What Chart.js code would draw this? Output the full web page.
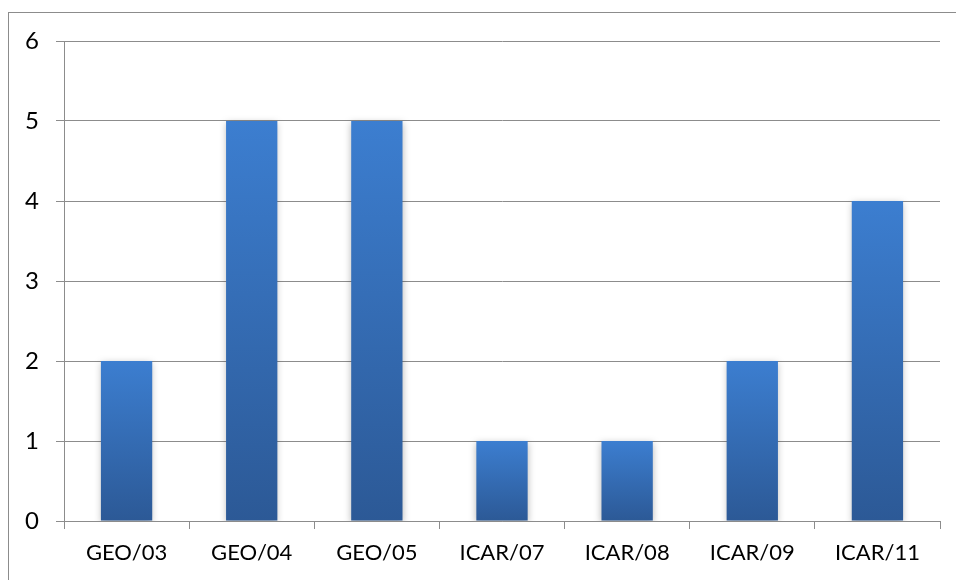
<!DOCTYPE html>
<html>
<head>
<meta charset="utf-8">
<script src="https://cdn.jsdelivr.net/npm/chart.js@4/dist/chart.umd.min.js"></script>
<style>
  html,body{margin:0;padding:0;background:#fff;}
  #wrap{position:relative;width:956px;height:580px;overflow:hidden;}
  #frame{position:absolute;left:8px;top:12px;width:1000px;height:700px;border:1px solid #8c8c8c;box-sizing:border-box;}
  canvas{position:absolute;left:0;top:0;}
</style>
</head>
<body>
<div id="wrap">
  <div id="frame"></div>
  <canvas id="c" width="956" height="580"></canvas>
</div>
<script>
const categories = ["GEO/03","GEO/04","GEO/05","ICAR/07","ICAR/08","ICAR/09","ICAR/11"];
const values = [2,5,5,1,1,2,4];
const yTicks = [0,1,2,3,4,5,6];

const topColor = "rgb(60,126,208)";
const botColor = "rgb(44,89,150)";

const shadowPlugin = {
  id: "barShadow",
  beforeDatasetsDraw(chart){
    const c = chart.ctx;
    c.save();
    c.shadowColor = "rgba(0,0,0,0.28)";
    c.shadowBlur = 7;
    c.shadowOffsetX = 0;
    c.shadowOffsetY = 2;
  },
  afterDatasetsDraw(chart){
    chart.ctx.restore();
  }
};

new Chart(document.getElementById("c"), {
  type: "bar",
  data: {
    labels: categories,
    datasets: [{
      data: values,
      barPercentage: 0.41,
      categoryPercentage: 1.0,
      borderWidth: 0,
      backgroundColor: (ctx) => {
        const chart = ctx.chart;
        if (!chart.chartArea || ctx.raw === undefined) return topColor;
        const y = chart.scales.y;
        const yt = y.getPixelForValue(ctx.raw);
        const yb = y.getPixelForValue(0);
        if (!isFinite(yt) || !isFinite(yb) || yt === yb) return topColor;
        const g = chart.ctx.createLinearGradient(0, yt, 0, yb);
        g.addColorStop(0, topColor);
        g.addColorStop(1, botColor);
        return g;
      }
    }]
  },
  options: {
    responsive: false,
    animation: false,
    devicePixelRatio: 1,
    layout: { padding: { left: 0, top: 41, right: 16, bottom: 0 } },
    plugins: { legend: { display: false }, tooltip: { enabled: false } },
    scales: {
      x: {
        offset: true,
        grid: { offset: true, drawOnChartArea: false, drawTicks: true, tickLength: 8, color: "#8c8c8c", lineWidth: 1 },
        border: { color: "#8c8c8c", width: 1 },
        ticks: { color: "#000", font: { family: "Lato", size: 22 }, padding: 11, maxRotation: 0, autoSkip: false },
        afterFit: (s) => { s.height = 59; }
      },
      y: {
        min: 0, max: 6,
        afterBuildTicks: (s) => { s.ticks = yTicks.map(v => ({ value: v })); },
        grid: { color: "#8c8c8c", lineWidth: 1, tickLength: 8, drawTicks: true },
        border: { color: "#8c8c8c", width: 1 },
        ticks: { color: "#000", font: { family: "Lato", size: 24 }, padding: 17 },
        afterFit: (s) => { s.width = 64; }
      }
    }
  },
  plugins: [shadowPlugin]
});
</script>
</body>
</html>
